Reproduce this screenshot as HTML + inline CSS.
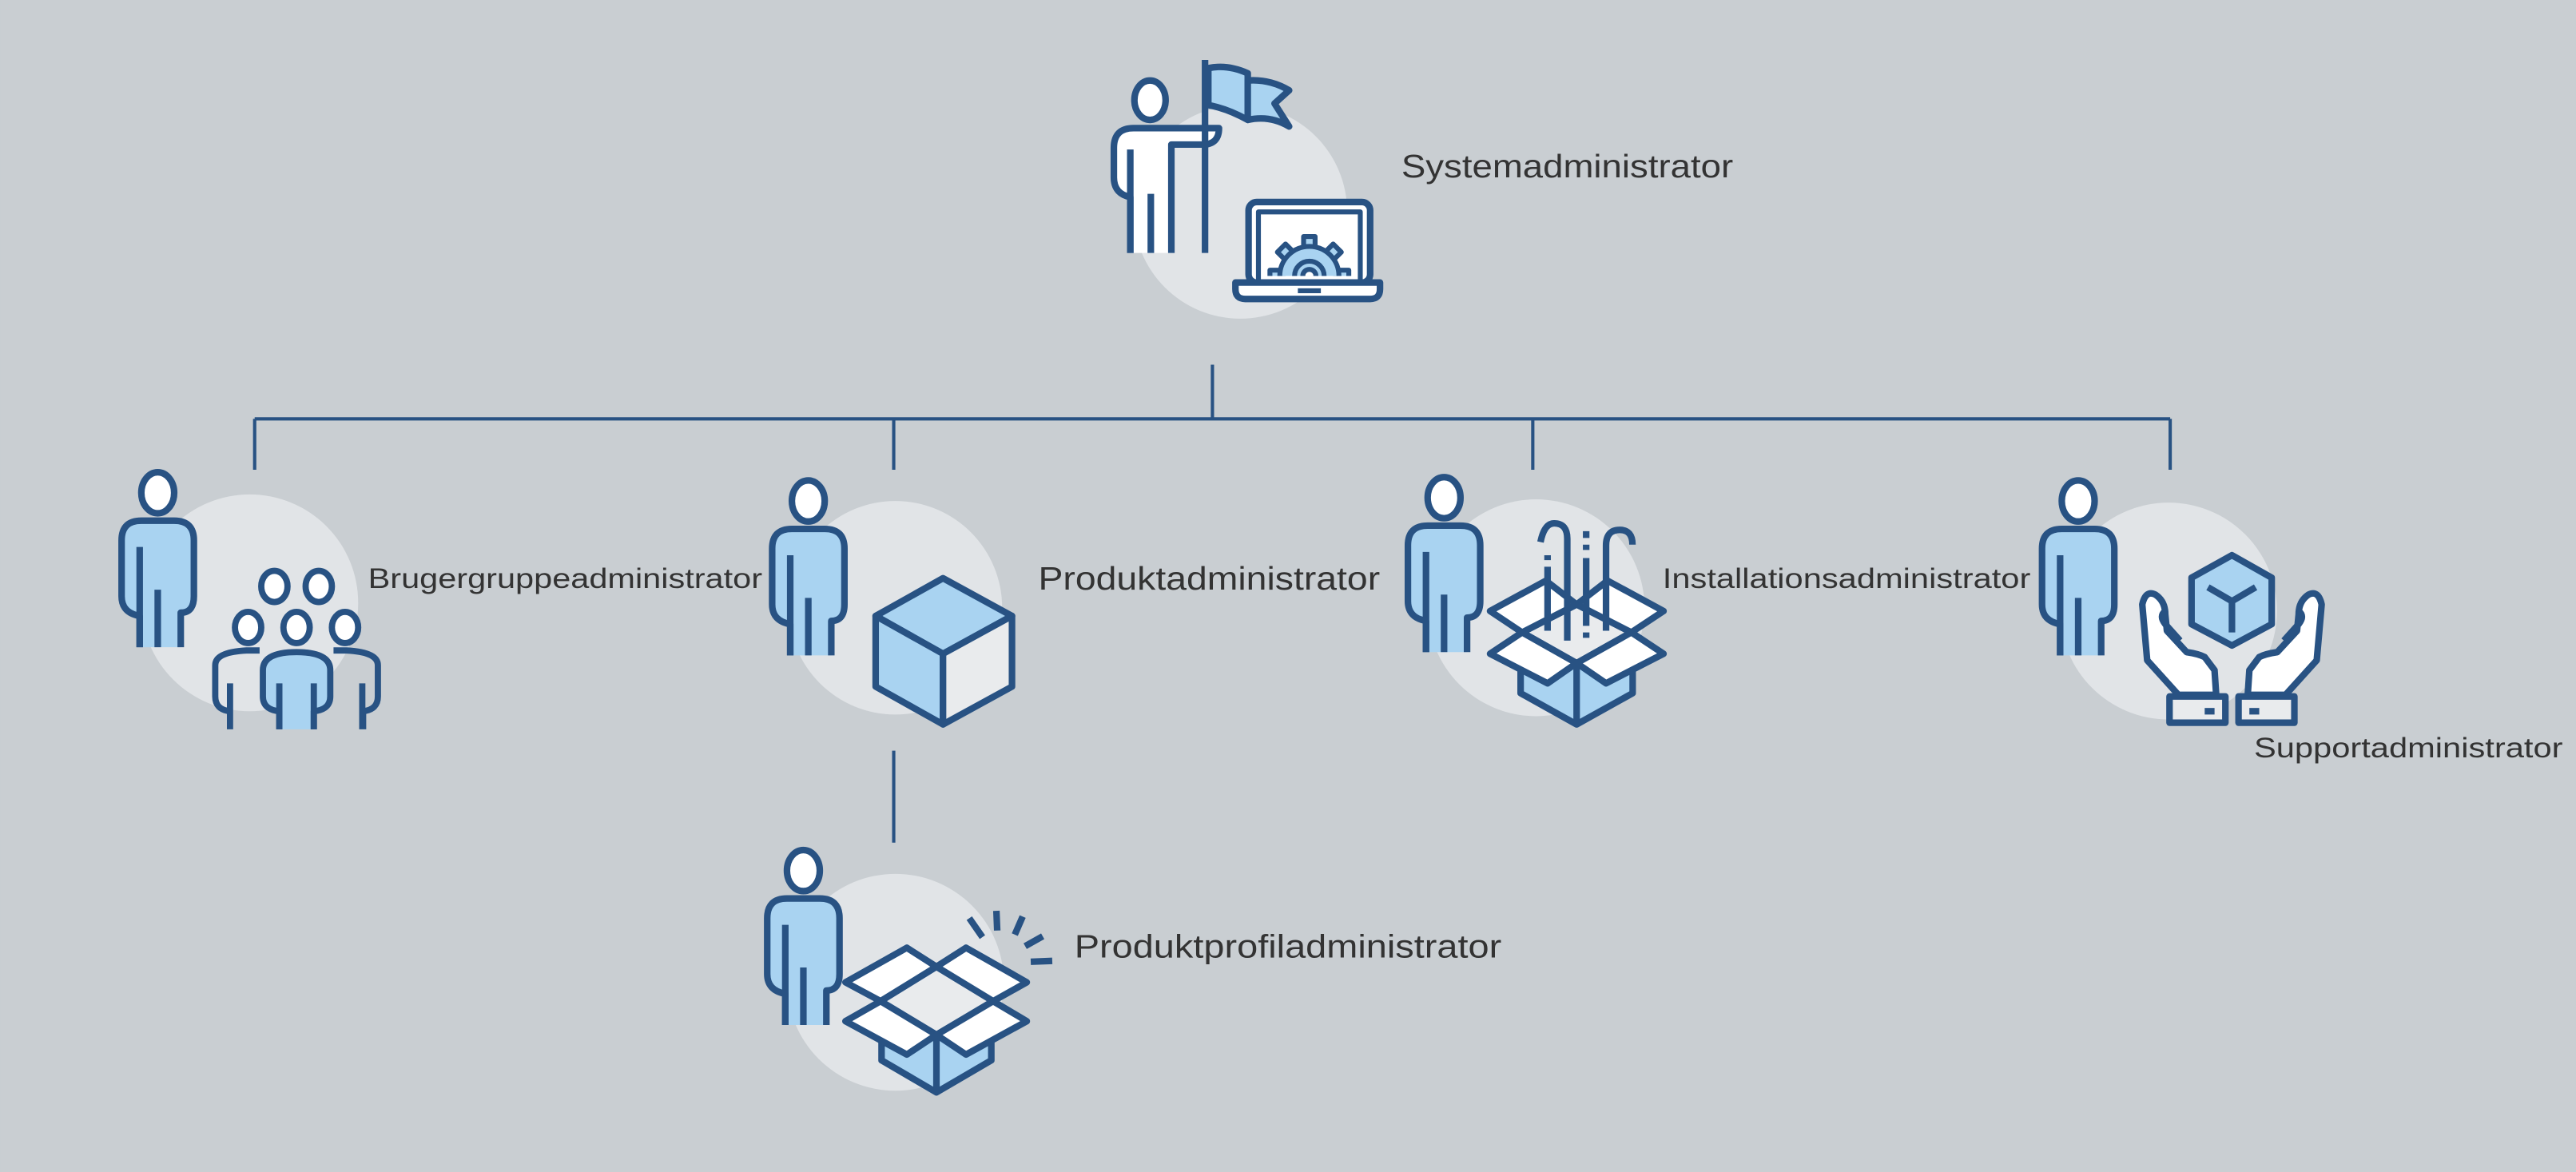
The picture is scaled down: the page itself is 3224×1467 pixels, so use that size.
<!DOCTYPE html>
<html><head><meta charset="utf-8"><style>
html,body{margin:0;padding:0;background:#c9ced2;}
svg{display:block}
text{font-family:"Liberation Sans",sans-serif;fill:#333;}
</style></head><body>
<svg width="3224" height="1467" viewBox="0 0 1568 713.5" xmlns="http://www.w3.org/2000/svg">
<rect width="1568" height="713.5" fill="#c9ced2"/>
<defs>
<g id="p" stroke="#285283" stroke-width="4" stroke-linejoin="round">
  <path d="M11,77 V58 Q0,56 0,46 V12 Q0,0 12,0 H32 Q44,0 44,12 V46 Q44,56 36,56 V77 Z" fill="#a9d3f1" stroke="none"/>
  <path d="M11,77 V58 Q0,56 0,46 V12 Q0,0 12,0 H32 Q44,0 44,12 V46 Q44,56 36,56 V77" fill="none"/>
  <path d="M11,16 V77 M22,42 V77" fill="none"/>
  <ellipse cx="22" cy="-17" rx="10" ry="12.5" fill="#fff"/>
</g>
<clipPath id="scr"><rect x="766" y="129" width="62" height="39"/></clipPath>
</defs>

<g fill="#e1e4e7">
<circle cx="755" cy="129" r="65"/>
<circle cx="152" cy="367" r="66"/>
<circle cx="545" cy="370" r="65"/>
<circle cx="935" cy="370" r="66"/>
<circle cx="1320" cy="372" r="66"/>
<circle cx="545" cy="598" r="66"/>
</g>

<g stroke="#285283" stroke-width="2" fill="none">
<path d="M738,222 V255 M155,255 H1321 M155,255 V286 M544,255 V286 M933,255 V286 M1321,255 V286 M544,457 V513"/>
</g>

<!-- top node -->
<g stroke="#285283" stroke-width="4" stroke-linejoin="round" fill="none">
  <path d="M735.5,41.5 Q747,39 759.5,44.6 V73 Q747,66 735.5,64 Z" fill="#a9d3f1"/>
  <path d="M759.5,49 Q773,48 784.7,55 L775.8,63 L784.7,77 Q773,70 759.5,73 Z" fill="#a9d3f1"/>
  <path d="M688,154 V120 Q678,118 678,108 V90 Q678,78 690,78 H742 Q742,88 732,88 H713 V154 Z" fill="#fff" stroke="none"/>
  <path d="M688,154 V120 Q678,118 678,108 V90 Q678,78 690,78 H742 Q742,88 732,88 H713 V154"/>
  <path d="M688,91 V154 M700.5,118 V154"/>
  <path d="M733.5,36.5 V154"/>
  <ellipse cx="700" cy="61" rx="9.5" ry="12" fill="#fff"/>
  <rect x="760" y="123" width="74" height="49" rx="5" fill="#fff"/>
  <rect x="766" y="129" width="62" height="43" fill="#fff" stroke-width="3"/>
  <g clip-path="url(#scr)" stroke-width="3" fill="#a9d3f1">
   <g transform="translate(797,168)">
    <rect x="-3.5" y="-24" width="7" height="8" transform="rotate(0)"/>
    <rect x="-3.5" y="-24" width="7" height="8" transform="rotate(45)"/>
    <rect x="-3.5" y="-24" width="7" height="8" transform="rotate(-45)"/>
    <rect x="-3.5" y="-24" width="7" height="8" transform="rotate(90)"/>
    <rect x="-3.5" y="-24" width="7" height="8" transform="rotate(-90)"/>
    <circle r="18"/>
    <circle r="9" fill="none"/>
    <circle r="4" fill="#fff"/>
   </g>
  </g>
  <path d="M752,172 H840 V176 Q840,182 834,182 H758 Q752,182 752,176 Z" fill="#fff"/>
  <path d="M790,177 H804" stroke-width="3"/>
</g>
<text x="853" y="108" font-size="20" textLength="202" lengthAdjust="spacingAndGlyphs">Systemadministrator</text>

<!-- node 1 -->
<use href="#p" x="74" y="317"/>
<g stroke="#285283" stroke-width="3.8" stroke-linejoin="round" fill="none">
  <ellipse cx="167" cy="357" rx="8" ry="9.5" fill="#fff"/>
  <ellipse cx="194" cy="357" rx="8" ry="9.5" fill="#fff"/>
  <ellipse cx="151" cy="382" rx="8" ry="9.5" fill="#fff"/>
  <ellipse cx="180.5" cy="382" rx="8" ry="9.5" fill="#fff"/>
  <ellipse cx="210" cy="382" rx="8" ry="9.5" fill="#fff"/>
  <path d="M140,444 V433 Q131,432 131,424 V405 Q131,397 150,396 H158 M140,416 V444" />
  <path d="M221,444 V433 Q230,432 230,424 V405 Q230,397 211,396 H203 M220.5,416 V444"/>
  <path d="M170,444 V433 Q160,432 160,424 V408 Q160,397 180.5,397 Q201,397 201,408 V424 Q201,432 191,433 V444" fill="#a9d3f1"/>
  <path d="M170,416 V444 M191,416 V444"/>
</g>
<text x="224" y="358" font-size="17" textLength="240" lengthAdjust="spacingAndGlyphs">Brugergruppeadministrator</text>

<!-- node 2 -->
<use href="#p" x="470" y="322"/>
<g stroke="#285283" stroke-width="4" stroke-linejoin="round">
  <path d="M574,352 L533,375 L574,398 L616,375 Z" fill="#a9d3f1"/>
  <path d="M533,375 L533,418 L574,441 L574,398 Z" fill="#a9d3f1"/>
  <path d="M574,398 L574,441 L616,418 L616,375 Z" fill="#e9ebed"/>
</g>
<text x="632" y="359" font-size="20" textLength="208" lengthAdjust="spacingAndGlyphs">Produktadministrator</text>

<!-- node 3 -->
<use href="#p" x="857" y="320"/>
<g stroke="#285283" stroke-width="4" stroke-linejoin="round" fill="none">
  <path d="M925.6,390 V422 L959.7,441 L993.8,422 V390 Z" fill="#a9d3f1"/>
  <path d="M959.7,368 L926.5,385 L959.7,403.7 L993,385 Z" fill="#e9ebed"/>
  <path d="M959.7,368 L941,353.5 L907,372 L926.5,385 Z" fill="#fff"/>
  <path d="M959.7,368 L978.5,353.5 L1012.6,372 L993,385 Z" fill="#fff"/>
  <path d="M942,345 V384 M942,338 V341"/>
  <path d="M937.7,330 Q940,318.6 946,318.6 Q954,318.6 954,328 V390"/>
  <path d="M965.5,323.4 V327.5 M965.5,331.6 V334.8 M965.5,339.7 V381 M965.5,385 V388.3"/>
  <path d="M977.6,384 V332 Q977.6,322.6 986,322.6 Q993.7,322.6 993.7,331.6"/>
  <path d="M926.5,385 L907,398 L942,416 L959.7,403.7 Z" fill="#fff"/>
  <path d="M993,385 L1012.6,398 L977.6,416 L959.7,403.7 Z" fill="#fff"/>
  <path d="M959.7,403.7 V441"/>
</g>
<text x="1012" y="358" font-size="17" textLength="224" lengthAdjust="spacingAndGlyphs">Installationsadministrator</text>

<!-- node 4 -->
<use href="#p" x="1243" y="322"/>
<g stroke="#285283" stroke-width="4" stroke-linejoin="round" fill="none">
  <path d="M1358.6,338 L1334,351.7 V380 L1358.6,393 L1382.8,380 V351.7 Z" fill="#a9d3f1"/>
  <path d="M1344,357.5 L1358.6,366 L1373,357.5 M1358.6,366 V385"/>
  <g id="hand">
    <path d="M1326,423 L1307,402 L1304,368 Q1306,359 1312,362 Q1318,366 1318,374 L1319,384 L1331,397 Q1338,398 1342,400 L1348,408 L1349,423 Z" fill="#fff"/>
    <path d="M1327,390 L1318,380 Q1314,375 1318,372" />
    <rect x="1320.6" y="424" width="34" height="16" fill="#e9ebed"/>
    <path d="M1342,433 H1348" stroke-width="4"/>
  </g>
  <use href="#hand" transform="translate(2717.2,0) scale(-1,1)"/>
</g>
<text x="1372" y="461" font-size="17" textLength="188" lengthAdjust="spacingAndGlyphs">Supportadministrator</text>

<!-- node 5 -->
<use href="#p" x="467" y="547"/>
<g stroke="#285283" stroke-width="4" stroke-linejoin="round" fill="none">
  <path d="M536.6,615 V645.5 L570,665 L603.4,645.5 V615 Z" fill="#a9d3f1"/>
  <path d="M570,588.5 L536,609.5 L570,630 L604.5,609.5 Z" fill="#e9ebed"/>
  <path d="M570,588.5 L552,577 L514.6,598 L536,609.5 Z" fill="#fff"/>
  <path d="M570,588.5 L588,577 L625,598 L604.5,609.5 Z" fill="#fff"/>
  <path d="M536,609.5 L514.6,621.7 L552,642 L570,630 Z" fill="#fff"/>
  <path d="M604.5,609.5 L625,621.7 L588,642 L570,630 Z" fill="#fff"/>
  <path d="M570,630 V665"/>
  <path d="M590,559 L598,570.5 M606.5,554.5 L607,566.5 M622.5,558 L617.7,569 M634.7,570 L624,576 M640.5,585 L627.4,585.5"/>
</g>
<text x="654" y="583" font-size="20" textLength="260" lengthAdjust="spacingAndGlyphs">Produktprofiladministrator</text>
</svg>
</body></html>
